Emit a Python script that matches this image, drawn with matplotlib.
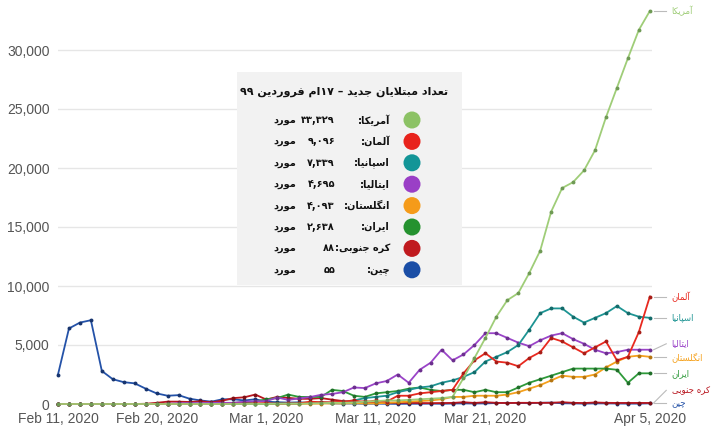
import re
import matplotlib
matplotlib.use("Agg")
import matplotlib.pyplot as plt

# ---------------- data (thousands of new cases per day, Feb 11 .. Apr 5 2020) ----------------
dates_labels = ["Feb 11, 2020", "Feb 20, 2020", "Mar 1, 2020", "Mar 11, 2020", "Mar 21, 2020", "Apr 5, 2020"]
date_label_days = [0, 9, 19, 29, 39, 54]

usa = [0, 0, 0, 0, 0, 0, 0, 0, 0, 0, 0, 0, 0, 0, 0, 0, 0, 0, 0, 0.01,
       0.02, 0.03, 0.03, 0.05, 0.07, 0.1, 0.1, 0.12, 0.2, 0.25, 0.3, 0.3, 0.35, 0.4, 0.45, 0.5,
       0.6, 2.2, 3.9, 5.6, 7.4, 8.8, 9.4, 11.1, 13.0, 16.3, 18.3, 18.8, 19.8, 21.5, 24.3,
       26.8, 29.3, 31.7, 33.3]
germany = [0, 0, 0, 0, 0, 0, 0, 0, 0, 0, 0, 0, 0, 0, 0, 0.01, 0.02, 0.03, 0.05, 0.08,
           0.03, 0.05, 0.05, 0.2, 0.15, 0.15, 0.2, 0.3, 0.15, 0.3, 0.2, 0.7, 0.7, 0.9, 1.0, 1.1,
           1.2, 2.6, 3.7, 4.3, 3.6, 3.5, 3.2, 3.9, 4.4, 5.6, 5.3, 4.8, 4.3, 4.8, 5.3,
           3.7, 4.0, 6.1, 9.1]
spain = [0, 0, 0, 0, 0, 0, 0, 0, 0, 0, 0, 0, 0, 0, 0, 0, 0, 0, 0.01, 0.03,
         0.05, 0.05, 0.05, 0.1, 0.15, 0.1, 0.2, 0.3, 0.5, 0.6, 0.7, 1.0, 1.2, 1.4, 1.5, 1.8,
         2.0, 2.3, 2.7, 3.6, 4.0, 4.4, 5.0, 6.3, 7.7, 8.1, 8.1, 7.4, 6.9, 7.3, 7.7,
         8.3, 7.7, 7.4, 7.3]
italy = [0, 0, 0, 0, 0, 0, 0, 0, 0, 0, 0.02, 0.06, 0.08, 0.07, 0.1, 0.1, 0.1, 0.2, 0.23, 0.24,
         0.55, 0.35, 0.47, 0.59, 0.78, 0.85, 1.0, 1.4, 1.35, 1.75, 1.95, 2.5, 1.8, 2.9, 3.5, 4.6,
         3.7, 4.2, 5.0, 6.0, 6.0, 5.6, 5.2, 4.9, 5.4, 5.8, 6.0, 5.5, 5.1, 4.6, 4.3,
         4.4, 4.6, 4.6, 4.6]
uk = [0, 0, 0, 0, 0, 0, 0, 0, 0, 0, 0, 0, 0, 0, 0, 0, 0, 0, 0, 0,
      0, 0.01, 0.01, 0.02, 0.03, 0.05, 0.05, 0.07, 0.05, 0.05, 0.1, 0.15, 0.2, 0.25, 0.3, 0.4,
      0.6, 0.6, 0.7, 0.7, 0.7, 0.8, 1.0, 1.3, 1.6, 2.0, 2.4, 2.3, 2.3, 2.5, 3.1,
      3.6, 4.0, 4.1, 4.0]
iran = [0, 0, 0, 0, 0, 0, 0, 0, 0, 0, 0.01, 0.01, 0.02, 0.02, 0.03, 0.04, 0.1, 0.14, 0.2, 0.4,
        0.5, 0.8, 0.6, 0.6, 0.6, 1.2, 1.1, 0.7, 0.6, 0.9, 1.0, 1.1, 1.3, 1.4, 1.2, 1.1,
        1.2, 1.2, 1.0, 1.2, 1.0, 1.0, 1.4, 1.8, 2.1, 2.4, 2.7, 3.0, 3.0, 3.0, 3.0,
        2.9, 1.8, 2.6, 2.6]
s_korea = [0, 0, 0, 0, 0, 0, 0, 0, 0.02, 0.1, 0.2, 0.2, 0.17, 0.23, 0.14, 0.28, 0.5, 0.57, 0.8, 0.38,
           0.6, 0.52, 0.44, 0.44, 0.5, 0.37, 0.25, 0.13, 0.24, 0.11, 0.11, 0.1, 0.1, 0.08, 0.07, 0.08,
           0.09, 0.15, 0.09, 0.15, 0.1, 0.08, 0.1, 0.1, 0.1, 0.1, 0.15, 0.1, 0.08, 0.13, 0.1,
           0.09, 0.09, 0.09, 0.088]
china = [2.5, 6.4, 6.9, 7.1, 2.8, 2.1, 1.85, 1.75, 1.3, 0.9, 0.7, 0.75, 0.45, 0.3, 0.2, 0.4, 0.4, 0.3, 0.4, 0.2,
         0.15, 0.12, 0.14, 0.1, 0.1, 0.05, 0.04, 0.04, 0.02, 0.03, 0.02, 0.01, 0.02, 0.02, 0.03, 0.02,
         0.04, 0.05, 0.04, 0.05, 0.08, 0.1, 0.08, 0.07, 0.1, 0.12, 0.06, 0.05, 0.03, 0.05, 0.05,
         0.04, 0.03, 0.03, 0.055]

names = ["آمریکا", "آلمان", "اسپانیا", "ایتالیا", "انگلستان", "ایران", "کره جنوبی", "چین"]
legend_counts = ["۳۳,۳۲۹", "۹,۰۹۶", "۷,۳۳۹", "۴,۶۹۵", "۴,۰۹۳", "۲,۶۳۸", "۸۸", "۵۵"]
series = [usa, germany, spain, italy, uk, iran, s_korea, china]
line_colors = ["#9fcd78", "#e8291f", "#1d9493", "#9a44c8", "#f5a11c", "#2e9a3a", "#b8161f", "#2452a8"]
marker_colors = ["#6f9a55", "#a81d17", "#146b6a", "#6c2f8e", "#b57510", "#206e29", "#7e0f15", "#17346e"]
circle_colors = ["#8cc265", "#e8231c", "#139597", "#9a3fc6", "#f59b1a", "#25922f", "#c01a1f", "#1a4ea6"]
title_text = "تعداد مبتلایان جدید – ۱۷ام فروردین ۹۹"
unit_word = "مورد"
y_ticks = [0, 5, 10, 15, 20, 25, 30]

# ---------------- minimal Persian shaping + RTL ordering ----------------
FORMS = {
    '\u0622': ('\uFE81', '\uFE82', None, None),
    '\u0627': ('\uFE8D', '\uFE8E', None, None),
    '\u0628': ('\uFE8F', '\uFE90', '\uFE91', '\uFE92'),
    '\u067E': ('\uFB56', '\uFB57', '\uFB58', '\uFB59'),
    '\u062A': ('\uFE95', '\uFE96', '\uFE97', '\uFE98'),
    '\u062C': ('\uFE9D', '\uFE9E', '\uFE9F', '\uFEA0'),
    '\u0686': ('\uFB7A', '\uFB7B', '\uFB7C', '\uFB7D'),
    '\u062F': ('\uFEA9', '\uFEAA', None, None),
    '\u0631': ('\uFEAD', '\uFEAE', None, None),
    '\u0633': ('\uFEB1', '\uFEB2', '\uFEB3', '\uFEB4'),
    '\u0639': ('\uFEC9', '\uFECA', '\uFECB', '\uFECC'),
    '\u0641': ('\uFED1', '\uFED2', '\uFED3', '\uFED4'),
    '\u06A9': ('\uFB8E', '\uFB8F', '\uFB90', '\uFB91'),
    '\u06AF': ('\uFB92', '\uFB93', '\uFB94', '\uFB95'),
    '\u0644': ('\uFEDD', '\uFEDE', '\uFEDF', '\uFEE0'),
    '\u0645': ('\uFEE1', '\uFEE2', '\uFEE3', '\uFEE4'),
    '\u0646': ('\uFEE5', '\uFEE6', '\uFEE7', '\uFEE8'),
    '\u0647': ('\uFEE9', '\uFEEA', '\uFEEB', '\uFEEC'),
    '\u0648': ('\uFEED', '\uFEEE', None, None),
    '\u06CC': ('\uFBFC', '\uFBFD', '\uFBFE', '\uFBFF'),
}
LAM_ALEF = {'\u0627': ('\uFEFB', '\uFEFC'), '\u0622': ('\uFEF5', '\uFEF6')}


def _dual(c):
    return c in FORMS and FORMS[c][2] is not None


def shape(s):
    out = []
    i, n = 0, len(s)
    while i < n:
        c = s[i]
        if c not in FORMS:
            out.append(c)
            i += 1
            continue
        join_prev = i > 0 and _dual(s[i - 1])
        if c == '\u0644' and i + 1 < n and s[i + 1] in LAM_ALEF:
            out.append(LAM_ALEF[s[i + 1]][1 if join_prev else 0])
            i += 2
            continue
        join_next = _dual(c) and i + 1 < n and s[i + 1] in FORMS
        iso, fin, ini, med = FORMS[c]
        if join_prev and join_next:
            out.append(med)
        elif join_prev:
            out.append(fin)
        elif join_next:
            out.append(ini)
        else:
            out.append(iso)
        i += 1
    return ''.join(out)


def fa(s):
    rev = shape(s)[::-1]
    return re.sub(r'[۰-۹0-9][۰-۹0-9,]*[۰-۹0-9]|[۰-۹0-9]', lambda m: m.group(0)[::-1], rev)


FA_FONT = ['DejaVu Sans']
LAT_FONT = ['Liberation Sans', 'DejaVu Sans']

# ---------------- figure ----------------
W, H = 717, 430
fig = plt.figure(figsize=(W / 100, H / 100), dpi=100)
fig.patch.set_facecolor('white')

px_per_k = 11.8
ax = fig.add_axes([58 / W, 26 / H, (652 - 58) / W, (H - 26) / H])
ax.set_xlim(0, 54.2)
ax.set_ylim(0, 404 / px_per_k)
for sp in ax.spines.values():
    sp.set_visible(False)
ax.set_yticks(y_ticks)
ax.set_yticklabels([f"{v * 1000:,}" for v in y_ticks], fontfamily=LAT_FONT, fontsize=10, color='#555555')
ax.set_xticks(date_label_days)
ax.set_xticklabels(dates_labels, fontfamily=LAT_FONT, fontsize=10, color='#555555')
ax.tick_params(axis='both', length=0)
ax.tick_params(axis='y', pad=6)
ax.tick_params(axis='x', pad=6)
ax.grid(axis='y', color='#e6e6e6', linewidth=1)
ax.set_axisbelow(True)

days = list(range(len(china)))
draw_order = [7, 6, 4, 5, 3, 2, 1, 0]
for k in draw_order:
    ax.plot(days, series[k], color=line_colors[k], linewidth=1.3, marker='o', markersize=2.8,
            markerfacecolor=marker_colors[k], markeredgewidth=0, clip_on=False,
            zorder=3 + draw_order.index(k) * 0.1)

# right-hand labels with simple vertical repel
last_vals = [s[-1] for s in series]
order = sorted(range(len(series)), key=lambda k: last_vals[k])
gap = 13 / px_per_k
label_y = {}
prev = None
for k in order:
    y = last_vals[k] if prev is None else max(last_vals[k], prev + gap)
    label_y[k] = y
    prev = y

x_last = days[-1]
x_lead0 = x_last + 0.35
x_lead1 = x_last + 1.5
x_text = x_last + 2.0
for k in range(len(series)):
    ax.plot([x_lead0, x_lead1], [last_vals[k], label_y[k]], color='#bbbbbb', lw=0.8,
            clip_on=False, zorder=2)
    ax.text(x_text, label_y[k], fa(names[k]), fontfamily=FA_FONT, fontsize=6.2, color=line_colors[k],
            ha='left', va='center', clip_on=False)

# ---------------- legend panel ----------------
lx0, lx1, ly0, ly1 = 237, 462, 72, 285
lax = fig.add_axes([lx0 / W, (H - ly1) / H, (lx1 - lx0) / W, (ly1 - ly0) / H])
lax.set_xlim(lx0, lx1)
lax.set_ylim(ly1, ly0)
lax.set_facecolor('#f2f2f2')
for sp in lax.spines.values():
    sp.set_visible(False)
lax.set_xticks([])
lax.set_yticks([])

lax.text(344, 92, fa(title_text), fontfamily=FA_FONT, fontsize=8, fontweight='bold', color='#111111',
         ha='center', va='center')
row_y0, row_dy = 120, 21.4
for k in range(len(names)):
    y = row_y0 + k * row_dy
    lax.scatter([412], [y], s=150, color=circle_colors[k], edgecolors='none', zorder=3)
    lax.text(390, y, fa(names[k] + ":"), fontfamily=FA_FONT, fontsize=7, fontweight='bold',
             color='#111111', ha='right', va='center')
    lax.text(335, y, fa(legend_counts[k]), fontfamily=FA_FONT, fontsize=7, fontweight='bold',
             color='#111111', ha='right', va='center')
    lax.text(296, y, fa(unit_word), fontfamily=FA_FONT, fontsize=7, fontweight='bold',
             color='#111111', ha='right', va='center')

fig.savefig('out.png', dpi=100)
